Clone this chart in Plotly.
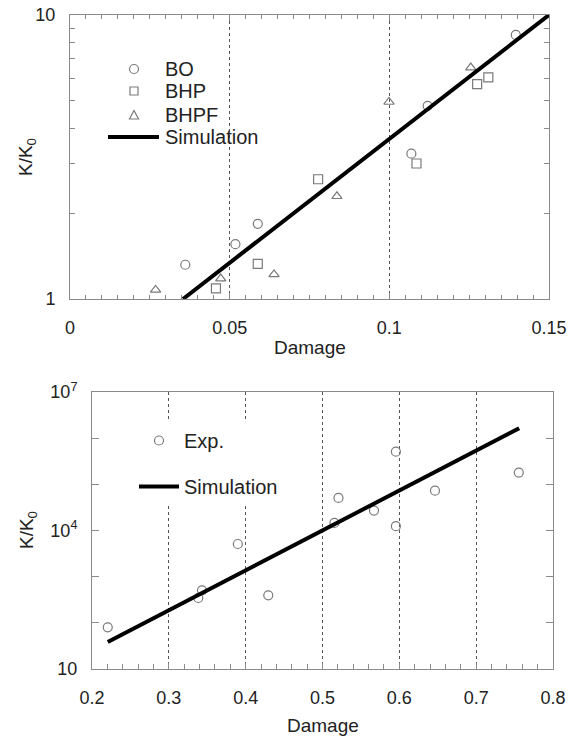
import plotly.graph_objects as go

# ---- upper panel: K/K0 vs damage (three data sets + simulation) ----
bo_damage = [0.0361, 0.0518, 0.0588, 0.1069, 0.1120, 0.1396]
bo_k = [1.32, 1.56, 1.84, 3.25, 4.79, 8.51]

bhp_damage = [0.0457, 0.0588, 0.0777, 0.1085, 0.1275, 0.1310]
bhp_k = [1.09, 1.33, 2.64, 3.00, 5.71, 6.03]

bhpf_damage = [0.0268, 0.0472, 0.0639, 0.0836, 0.0999, 0.1255]
bhpf_k = [1.076, 1.18, 1.22, 2.30, 4.94, 6.53]

sim1_damage = [0.0354, 0.150]
sim1_k = [1.0, 10.0]

# ---- lower panel: K/K0 vs damage (experiments + simulation) ----
exp_damage = [0.2205, 0.3383, 0.3431, 0.3898, 0.4294, 0.5155, 0.5208,
              0.5670, 0.5955, 0.5955, 0.6464, 0.7555]
exp_k = [80, 345, 506, 5100, 394, 14600, 50800, 27000, 510000, 12400,
         73000, 180000]

sim2_damage = [0.2205, 0.7560]
sim2_k = [38.5, 1.64e6]

y2_ticks = [10, 1e2, 1e3, 1e4, 1e5, 1e6, 1e7]
y2_text = ["10", "", "", "10<sup>4</sup>", "", "", "10<sup>7</sup>"]

FONT = "Liberation Sans, Arial, Helvetica, sans-serif"
MARK = "#7a7a7a"
AXIS = "#8a8a8a"
TXT = "#222"
W, H = 576, 736


def px(x):
    return x / W


def py(y):
    return 1 - y / H


fig = go.Figure()


def open_marker(symbol):
    return dict(color=MARK, size=9, symbol=symbol, line=dict(width=1.2))


fig.add_trace(go.Scatter(x=bo_damage, y=bo_k, mode="markers", name="BO",
                         marker=open_marker("circle-open"),
                         xaxis="x", yaxis="y", showlegend=False))
fig.add_trace(go.Scatter(x=bhp_damage, y=bhp_k, mode="markers", name="BHP",
                         marker=open_marker("square-open"),
                         xaxis="x", yaxis="y", showlegend=False))
fig.add_trace(go.Scatter(x=bhpf_damage, y=bhpf_k, mode="markers", name="BHPF",
                         marker=open_marker("triangle-up-open"),
                         xaxis="x", yaxis="y", showlegend=False))
fig.add_trace(go.Scatter(x=sim1_damage, y=sim1_k, mode="lines", name="Simulation",
                         line=dict(color="black", width=4),
                         xaxis="x", yaxis="y", showlegend=False))

fig.add_trace(go.Scatter(x=exp_damage, y=exp_k, mode="markers", name="Exp.",
                         marker=open_marker("circle-open"),
                         xaxis="x2", yaxis="y2", legend="legend2",
                         legendgroup="a"))
fig.add_trace(go.Scatter(x=sim2_damage, y=sim2_k, mode="lines", name="Simulation",
                         line=dict(color="black", width=4),
                         xaxis="x2", yaxis="y2", legend="legend2",
                         legendgroup="b"))

common_axis = dict(showline=True, linecolor=AXIS, linewidth=1, ticks="inside",
                   tickcolor=AXIS, tickfont=dict(family=FONT, size=18, color=TXT),
                   zeroline=False, automargin=False)

fig.update_layout(
    width=W, height=H,
    margin=dict(l=0, r=0, t=0, b=0),
    paper_bgcolor="white", plot_bgcolor="white",
    font=dict(family=FONT, size=18, color=TXT),
    xaxis=dict(common_axis, domain=[px(70), px(549)], anchor="y",
               range=[0, 0.15], tickvals=[0, 0.05, 0.1, 0.15],
               ticktext=["0", "0.05", "0.1", "0.15"], ticklen=6,
               mirror="allticks", showgrid=True, gridcolor="#555",
               griddash="dot", gridwidth=1, ticklabelstandoff=12,
               minor=dict(dtick=0.005, ticks="inside", ticklen=4,
                          tickcolor=AXIS, showgrid=False)),
    yaxis=dict(common_axis, domain=[py(299), py(15)], anchor="x",
               type="log", range=[0, 1], tickvals=[1, 10],
               ticktext=["1", "10"], ticklen=6, mirror="allticks",
               showgrid=False, ticklabelstandoff=10,
               minor=dict(tickvals=[2, 3, 4, 5, 6, 7, 8, 9], ticks="inside",
                          ticklen=5, tickcolor=AXIS, showgrid=False)),
    xaxis2=dict(common_axis, domain=[px(92), px(553)], anchor="y2",
                range=[0.2, 0.8], dtick=0.1, tickformat=".1f", ticklen=6,
                mirror=True, showgrid=True, gridcolor="#555", griddash="dot",
                gridwidth=1, ticklabelstandoff=12,
                minor=dict(dtick=0.02, ticks="inside", ticklen=5,
                           tickcolor=AXIS, showgrid=False)),
    yaxis2=dict(common_axis, domain=[py(669), py(392)], anchor="x2",
                type="log", range=[1, 7], tickvals=y2_ticks,
                ticktext=y2_text, ticklen=7, mirror="allticks",
                showgrid=False, ticklabelstandoff=10),
    legend2=dict(x=px(134), y=py(421), xanchor="left", yanchor="top",
                 bgcolor="white", borderwidth=0, traceorder="grouped",
                 tracegroupgap=17,
                 font=dict(family=FONT, size=20, color=TXT),
                 itemwidth=40),
    showlegend=True,
)

# key for the upper panel: white box over the grid, glyphs and labels
fig.add_shape(type="rect", xref="paper", yref="paper", layer="between",
              x0=px(100), x1=px(262), y0=py(163), y1=py(50),
              fillcolor="white", line=dict(width=0))
key_line = dict(color=MARK, width=1.2)
fig.add_shape(type="circle", xref="paper", yref="paper",
              x0=px(129.5), x1=px(138.5), y0=py(73.5), y1=py(64.5),
              line=key_line)
fig.add_shape(type="rect", xref="paper", yref="paper",
              x0=px(130), x1=px(138), y0=py(95), y1=py(87),
              line=key_line)
fig.add_shape(type="path", xref="paper", yref="paper",
              path="M {:.4f},{:.4f} L {:.4f},{:.4f} L {:.4f},{:.4f} Z".format(
                  px(129.5), py(119), px(138.5), py(119), px(134), py(110.5)),
              line=key_line)
fig.add_shape(type="line", xref="paper", yref="paper",
              x0=px(108), x1=px(159), y0=py(137), y1=py(137),
              line=dict(color="black", width=4))

ann = dict(xref="paper", yref="paper", showarrow=False,
           font=dict(family=FONT, size=20, color=TXT))
for label, yy in [("BO", 69), ("BHP", 91), ("BHPF", 115), ("Simulation", 137)]:
    fig.add_annotation(ann, text=label, x=px(163), y=py(yy),
                       xanchor="left", yanchor="middle")

title = dict(ann, font=dict(family=FONT, size=19, color=TXT))
fig.add_annotation(title, text="Damage", x=px(309.5), y=py(347),
                   xanchor="center", yanchor="middle")
fig.add_annotation(title, text="Damage", x=px(322.5), y=py(725),
                   xanchor="center", yanchor="middle")
fig.add_annotation(title, text="K/K<sub>0</sub>", x=px(27), y=py(157),
                   xanchor="center", yanchor="middle", textangle=-90)
fig.add_annotation(title, text="K/K<sub>0</sub>", x=px(28), y=py(530),
                   xanchor="center", yanchor="middle", textangle=-90)

fig.write_html("out.html")
